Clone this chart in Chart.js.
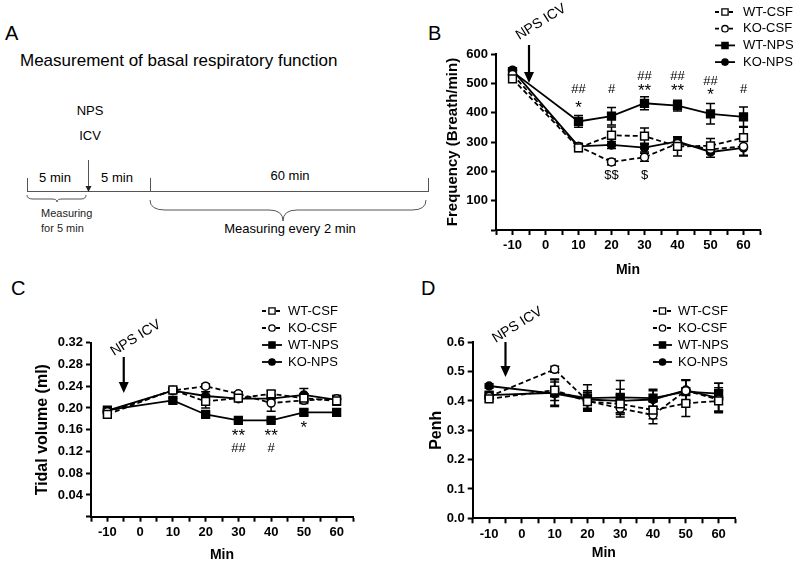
<!DOCTYPE html>
<html>
<head>
<meta charset="utf-8">
<script src="https://cdn.jsdelivr.net/npm/chart.js@4.4.0/dist/chart.umd.min.js"></script>
<style>
  body { margin: 0; background: #fff; }
  #page { position: relative; width: 800px; height: 568px; overflow: hidden; font-family: Arial, "Liberation Sans", sans-serif; }
  canvas { position: absolute; }
  svg { position: absolute; left: 0; top: 0; }
</style>
</head>
<body>
<div id="page">
  <svg width="800" height="568" font-family="Arial, 'Liberation Sans', sans-serif">
    <text x="5" y="39.5" font-size="20">A</text>
    <text x="428" y="39.5" font-size="20">B</text>
    <text x="11" y="295" font-size="20">C</text>
    <text x="421" y="295" font-size="20">D</text>
    <text x="20" y="66" font-size="17">Measurement of basal respiratory function</text>
    <text x="90" y="115" font-size="13" text-anchor="middle">NPS</text>
    <text x="90" y="140" font-size="13" text-anchor="middle">ICV</text>
    <g stroke="#555" stroke-width="1" fill="none">
      <line x1="27" y1="191.5" x2="428" y2="191.5"/>
      <line x1="27.5" y1="178" x2="27.5" y2="192"/>
      <line x1="150.5" y1="178" x2="150.5" y2="192"/>
      <line x1="428.5" y1="178" x2="428.5" y2="192"/>
      <line x1="88.5" y1="160" x2="88.5" y2="188"/>
      <path d="M27,195 Q27,199 33,199 L52,199 Q57,199 57,202 Q57,199 62,199 L81,199 Q86,199 86,195"/>
      <path d="M150,200 Q150,210 165,210 L269,210 Q283,210 283,221 Q283,210 297,210 L412,210 Q426,210 426,200"/>
    </g>
    <path d="M85.5,186 L91.5,186 L88.5,192 Z" fill="#222"/>
    <text x="55" y="182" font-size="13" text-anchor="middle">5 min</text>
    <text x="117" y="182" font-size="13" text-anchor="middle">5 min</text>
    <text x="290" y="180" font-size="13" text-anchor="middle">60 min</text>
    <text x="41" y="217" font-size="11" fill="#222">Measuring</text>
    <text x="41" y="232" font-size="11" fill="#222">for 5 min</text>
    <text x="290" y="233" font-size="13" text-anchor="middle">Measuring every 2 min</text>
  </svg>
  <canvas id="freqChart" width="380" height="290" style="left:420px;top:0px"></canvas>
  <canvas id="tidalChart" width="400" height="278" style="left:0px;top:290px"></canvas>
  <canvas id="penhChart" width="400" height="278" style="left:400px;top:290px"></canvas>
</div>
<script>
// time points (min)
const minutes = [-10, 10, 20, 30, 40, 50, 60];
const groups = ['WT-CSF', 'KO-CSF', 'WT-NPS', 'KO-NPS'];

// B: frequency (breath/min)
const freqWtCsf = [515, 280, 323, 320, 285, 287, 315];
const freqKoCsf = [530, 285, 232, 248, 295, 275, 285];
const freqWtNps = [540, 370, 388, 432, 424, 396, 386];
const freqKoNps = [545, 285, 290, 281, 302, 266, 280];
const freqWtCsfErr = [10, 12, 28, 28, 33, 25, 35];
const freqKoCsfErr = [10, 10, 10, 14, 20, 15, 30];
const freqWtNpsErr = [10, 20, 30, 22, 18, 35, 33];
const freqKoNpsErr = [8, 10, 12, 15, 12, 18, 28];
const freqMarkX = [10, 10, 20, 30, 30, 40, 40, 50, 50, 60, 20, 30];
const freqMarkText = ['##', '*', '#', '##', '**', '##', '**', '##', '*', '#', '$$', '$'];
const freqMarkY = [480, 429, 480, 524, 487, 524, 487, 507, 473, 480, 185, 185];

// C: tidal volume (ml)
const tidalWtCsf = [0.188, 0.233, 0.212, 0.218, 0.226, 0.218, 0.213];
const tidalKoCsf = [0.193, 0.232, 0.240, 0.226, 0.209, 0.214, 0.217];
const tidalWtNps = [0.196, 0.214, 0.188, 0.177, 0.177, 0.192, 0.192];
const tidalKoNps = [0.195, 0.232, 0.222, 0.217, 0.217, 0.224, 0.215];
const tidalWtCsfErr = [0.004, 0.004, 0.012, 0.004, 0.005, 0.008, 0.008];
const tidalKoCsfErr = [0.004, 0.004, 0.004, 0.004, 0.015, 0.006, 0.006];
const tidalWtNpsErr = [0.004, 0.004, 0.004, 0.003, 0.003, 0.005, 0.005];
const tidalKoNpsErr = [0.004, 0.005, 0.008, 0.004, 0.006, 0.012, 0.008];
const tidalMarkX = [30, 30, 40, 40, 50];
const tidalMarkText = ['**', '##', '**', '#', '*'];
const tidalMarkY = [0.155, 0.125, 0.155, 0.125, 0.169];

// D: Penh
const penhWtCsf = [0.407, 0.437, 0.398, 0.390, 0.369, 0.392, 0.400];
const penhKoCsf = [0.415, 0.508, 0.400, 0.375, 0.352, 0.435, 0.405];
const penhWtNps = [0.420, 0.428, 0.410, 0.412, 0.410, 0.432, 0.425];
const penhKoNps = [0.451, 0.425, 0.405, 0.400, 0.405, 0.437, 0.410];
const penhWtCsfErr = [0.010, 0.035, 0.030, 0.030, 0.030, 0.045, 0.035];
const penhKoCsfErr = [0.010, 0.010, 0.030, 0.030, 0.030, 0.035, 0.040];
const penhWtNpsErr = [0.010, 0.047, 0.045, 0.058, 0.030, 0.040, 0.035];
const penhKoNpsErr = [0.008, 0.040, 0.030, 0.040, 0.030, 0.035, 0.050];

const FONT = 'Arial, "Liberation Sans", sans-serif';
Chart.defaults.color = '#000';
Chart.defaults.font.family = FONT;

// look of each group, same order as groups
const styles = [
  {dash: [5, 3], pointStyle: 'rect', radius: 5.5, fill: '#fff'},
  {dash: [5, 3], pointStyle: 'circle', radius: 4, fill: '#fff'},
  {dash: [], pointStyle: 'rect', radius: 5.5, fill: '#000'},
  {dash: [], pointStyle: 'circle', radius: 4, fill: '#000'}
];

function makeSets(series, errs) {
  return series.map((vals, i) => ({
    label: groups[i],
    data: vals.map((v, j) => ({x: minutes[j], y: v})),
    errors: errs[i],
    borderColor: '#000',
    borderWidth: 1.8,
    borderDash: styles[i].dash,
    pointStyle: styles[i].pointStyle,
    pointRadius: styles[i].radius,
    pointBackgroundColor: styles[i].fill,
    pointBorderColor: '#000',
    pointBorderWidth: 1.5,
    tension: 0,
    fill: false
  }));
}

// error bars drawn under the markers
const errorBars = {
  id: 'errorBars',
  beforeDatasetsDraw(chart) {
    const ctx = chart.ctx, ys = chart.scales.y;
    chart.data.datasets.forEach((ds, i) => {
      const meta = chart.getDatasetMeta(i);
      ctx.save();
      ctx.strokeStyle = '#000';
      ctx.lineWidth = 1.5;
      meta.data.forEach((pt, j) => {
        const v = ds.data[j].y, e = ds.errors[j];
        const top = ys.getPixelForValue(v + e), bot = ys.getPixelForValue(v - e);
        ctx.beginPath();
        ctx.moveTo(pt.x, top); ctx.lineTo(pt.x, bot);
        ctx.moveTo(pt.x - 4.5, top); ctx.lineTo(pt.x + 4.5, top);
        ctx.moveTo(pt.x - 4.5, bot); ctx.lineTo(pt.x + 4.5, bot);
        ctx.stroke();
      });
      ctx.restore();
    });
  }
};

// legend: line sample + marker + name
const legendBox = {
  id: 'legendBox',
  afterDraw(chart, args, o) {
    const ctx = chart.ctx;
    chart.data.datasets.forEach((ds, i) => {
      const y = o.top + i * o.gap;
      ctx.save();
      ctx.strokeStyle = '#000';
      ctx.lineWidth = 1.8;
      ctx.setLineDash(ds.borderDash.length ? [4, 3] : []);
      ctx.beginPath();
      ctx.moveTo(o.x1, y); ctx.lineTo(o.x2, y);
      ctx.stroke();
      ctx.setLineDash([]);
      ctx.fillStyle = ds.pointBackgroundColor;
      ctx.lineWidth = 1.3;
      Chart.helpers.drawPoint(ctx, {pointStyle: ds.pointStyle, radius: ds.pointRadius * 0.8, borderWidth: 1.3}, (o.x1 + o.x2) / 2, y);
      ctx.fillStyle = '#000';
      ctx.font = '13px ' + FONT;
      ctx.textBaseline = 'middle';
      ctx.fillText(ds.label, o.tx, y);
      ctx.restore();
    });
  }
};

// NPS ICV arrow and significance marks
const notes = {
  id: 'notes',
  afterDraw(chart, args, o) {
    const ctx = chart.ctx, xs = chart.scales.x, ys = chart.scales.y;
    const ax = xs.getPixelForValue(-5);
    ctx.save();
    ctx.strokeStyle = '#000';
    ctx.fillStyle = '#000';
    ctx.lineWidth = 2.2;
    ctx.beginPath();
    ctx.moveTo(ax, o.arrowTop); ctx.lineTo(ax, o.arrowTip - 8);
    ctx.stroke();
    ctx.beginPath();
    ctx.moveTo(ax - 5, o.arrowTip - 11); ctx.lineTo(ax + 5, o.arrowTip - 11); ctx.lineTo(ax, o.arrowTip);
    ctx.closePath(); ctx.fill();
    ctx.translate(ax + 12, o.textY);
    ctx.rotate(-32 * Math.PI / 180);
    ctx.font = '14px ' + FONT;
    ctx.textAlign = 'center';
    ctx.textBaseline = 'middle';
    ctx.fillText('NPS ICV', 0, 0);
    ctx.restore();
    ctx.save();
    ctx.textAlign = 'center';
    ctx.textBaseline = 'middle';
    ctx.fillStyle = '#000';
    o.markX.forEach((x, k) => {
      const t = o.markText[k];
      const star = t[0] === '*';
      // asterisks sit high in the font, so draw them bigger and lower
      ctx.font = (star ? '17px ' : '13px ') + FONT;
      ctx.fillText(t, xs.getPixelForValue(x), ys.getPixelForValue(o.markY[k]) + (star ? 4 : 0));
    });
    ctx.restore();
  }
};

function axes(c) {
  const tickGrid = {drawOnChartArea: false, drawTicks: true, tickLength: 5, tickColor: '#000', tickWidth: 2};
  return {
    x: {
      type: 'linear', min: -15, max: 65,
      afterFit: s => { s.height = c.xHeight; },
      border: {color: '#000', width: 2},
      grid: tickGrid,
      ticks: {
        stepSize: 5, autoSkip: false, maxRotation: 0, padding: 3,
        font: {size: 13, weight: 'bold'},
        callback: v => (v % 10 === 0 && v >= -10 && v <= 60) ? String(v) : ''
      },
      title: {display: true, text: 'Min', font: {size: 14, weight: 'bold'}, padding: {top: 0, bottom: c.xTitlePad}}
    },
    y: {
      min: 0, max: c.yMax,
      afterFit: s => { s.width = c.yWidth; },
      border: {color: '#000', width: 2},
      grid: tickGrid,
      ticks: {
        stepSize: c.yStep, autoSkip: false, padding: 3,
        font: {size: 13, weight: 'bold'},
        callback: v => Math.abs(v) < 1e-9 && c.hideZero ? '' : v.toFixed(c.dec)
      },
      title: {display: true, text: c.yTitle, font: {size: c.yTitleSize, weight: 'bold'}, padding: {top: c.yTitlePad, bottom: 0}}
    }
  };
}

function build(id, sets, c, legend, note) {
  new Chart(document.getElementById(id), {
    type: 'line',
    data: {datasets: sets},
    options: {
      responsive: false,
      animation: false,
      layout: {padding: {top: c.padTop, right: c.padRight, left: 0, bottom: 0}},
      scales: axes(c),
      plugins: {legend: {display: false}, tooltip: {enabled: false}, legendBox: legend, notes: note}
    },
    plugins: [errorBars, legendBox, notes]
  });
}

build('freqChart',
  makeSets([freqWtCsf, freqKoCsf, freqWtNps, freqKoNps], [freqWtCsfErr, freqKoCsfErr, freqWtNpsErr, freqKoNpsErr]),
  {yMax: 600, yStep: 100, dec: 0, hideZero: true, yTitle: 'Frequency (Breath/min)', yTitleSize: 15, yTitlePad: 24,
   yWidth: 76, xHeight: 60, xTitlePad: 11.6, padTop: 54, padRight: 40},
  {x1: 295, x2: 315, tx: 323, top: 12, gap: 16.7},
  {arrowTop: 45, arrowTip: 83, textY: 22, markX: freqMarkX, markText: freqMarkText, markY: freqMarkY});

build('tidalChart',
  makeSets([tidalWtCsf, tidalKoCsf, tidalWtNps, tidalKoNps], [tidalWtCsfErr, tidalKoCsfErr, tidalWtNpsErr, tidalKoNpsErr]),
  {yMax: 0.32, yStep: 0.04, dec: 2, hideZero: true, yTitle: 'Tidal volume (ml)', yTitleSize: 16, yTitlePad: 33.4,
   yWidth: 91, xHeight: 51.3, xTitlePad: 4.6, padTop: 52.7, padRight: 47},
  {x1: 262, x2: 282, tx: 288, top: 21, gap: 17},
  {arrowTop: 67, arrowTip: 103, textY: 48, markX: tidalMarkX, markText: tidalMarkText, markY: tidalMarkY});

build('penhChart',
  makeSets([penhWtCsf, penhKoCsf, penhWtNps, penhKoNps], [penhWtCsfErr, penhKoCsfErr, penhWtNpsErr, penhKoNpsErr]),
  {yMax: 0.6, yStep: 0.1, dec: 1, hideZero: false, yTitle: 'Penh', yTitleSize: 16, yTitlePad: 27.4,
   yWidth: 72.7, xHeight: 49.7, xTitlePad: 6.6, padTop: 52.3, padRight: 65},
  {x1: 253, x2: 272, tx: 278, top: 21, gap: 17},
  {arrowTop: 52, arrowTip: 87, textY: 35, markX: [], markText: [], markY: []});
</script>
</body>
</html>
